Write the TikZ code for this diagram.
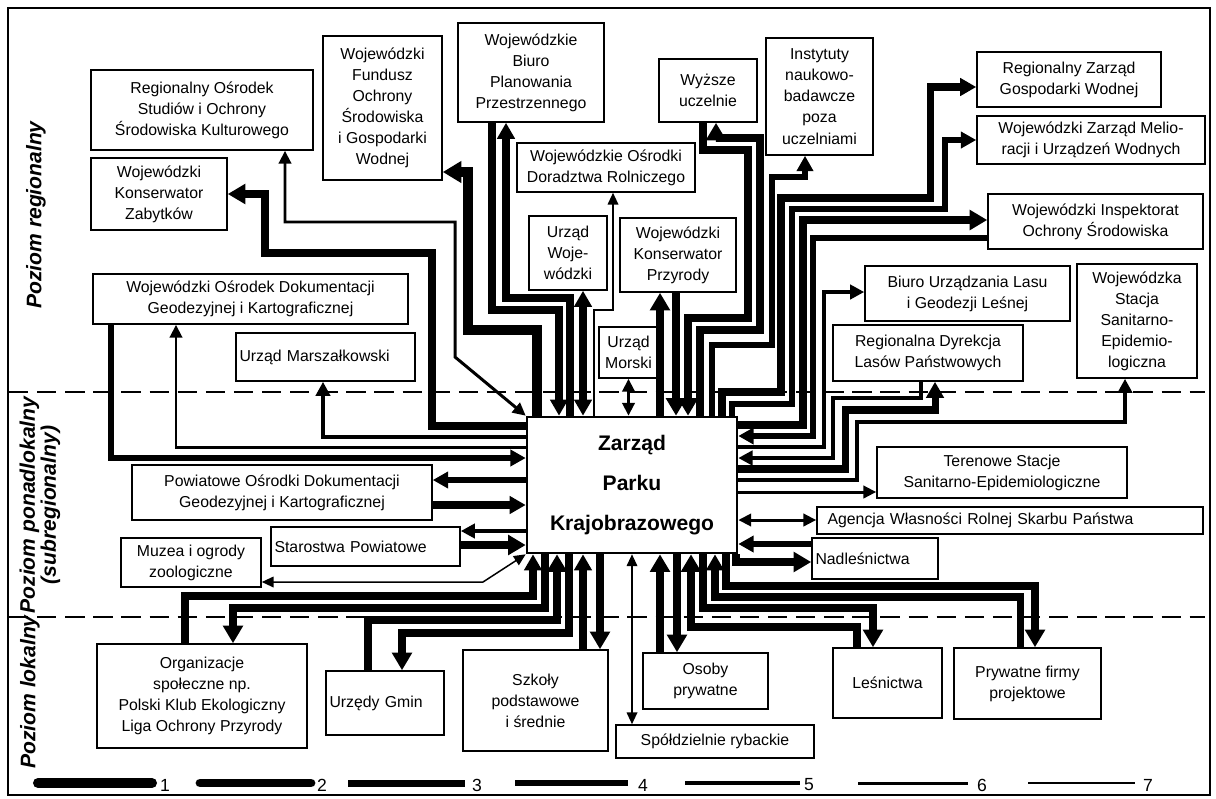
\documentclass[tikz,border=0pt]{standalone}
\usepackage{fontspec}
\setmainfont{Liberation Sans}
\usetikzlibrary{arrows.meta}

\begin{document}
\begin{tikzpicture}[x=0.02cm,y=-0.02cm,
  box/.style={draw,line width=0.9pt,fill=white,inner sep=2pt,align=center,font=\fontsize{9}{12}\selectfont},
  lbox/.style={box,align=left},
  tier/.style={rotate=90,align=center,font=\fontsize{12}{12}\selectfont\bfseries\itshape},
  w1/.style={line width=5.7pt},
  w2/.style={line width=5pt},
  w3/.style={line width=4pt},
  w4/.style={line width=3.4pt},
  w5/.style={line width=2.6pt},
  w6/.style={line width=1.7pt},
  w7/.style={line width=0.85pt},
  >={Triangle[length=6pt 0.8,width=5pt 1.2]}]
\useasboundingbox (0,0) rectangle (1216,798);
\draw[line width=1pt] (8,8) rectangle (1210,795);
\draw[line width=0.7pt,dash pattern=on 11pt off 5pt] (9,392) -- (1205,392);
\draw[line width=0.7pt,dash pattern=on 11pt off 5pt] (9,617) -- (1205,617);

\node[tier] (lvreg) at (36,215) {Poziom regionalny};
\node[tier] (lvsub) at (40,505) {Poziom ponadlokalny\\(subregionalny)};
\node[tier] (lvloc) at (30,692) {Poziom lokalny};

% poziom regionalny
\node[box,minimum width=4.44cm,minimum height=1.6cm] (rosiok) at (202,110) {Regionalny Ośrodek\\Studiów i Ochrony\\Środowiska Kulturowego};
\node[box,minimum width=2.72cm,minimum height=1.44cm] (wkz) at (159,194) {Wojewódzki\\Konserwator\\Zabytków};
\node[box,minimum width=2.38cm,minimum height=2.88cm] (wfos) at (382.5,108) {Wojewódzki\\Fundusz\\Ochrony\\Środowiska\\i Gospodarki\\Wodnej};
\node[box,minimum width=6.3cm,minimum height=1cm] (wodgik) at (250.5,299) {Wojewódzki Ośrodek Dokumentacji\\Geodezyjnej i Kartograficznej};
\node[lbox,text width=3.44cm,minimum height=0.96cm] (umarsz) at (325.5,357) {Urząd Marszałkowski};
\node[box,minimum width=2.92cm,minimum height=1.98cm] (wbpp) at (531,72.5) {Wojewódzkie\\Biuro\\Planowania\\Przestrzennego};
\node[box,minimum width=3.56cm,minimum height=0.98cm] (wodr) at (606,167.5) {Wojewódzkie Ośrodki\\Doradztwa Rolniczego};
\node[box,minimum width=1.56cm,minimum height=1.48cm] (uwoj) at (568,253) {Urząd\\Woje-\\wódzki};
\node[box,minimum width=2.32cm,minimum height=1.48cm] (wkp) at (678,255) {Wojewódzki\\Konserwator\\Przyrody};
\node[box,minimum width=1.18cm,minimum height=1.02cm] (umor) at (628.5,352.5) {Urząd\\Morski};
\node[box,minimum width=1.96cm,minimum height=1.26cm] (wu) at (708,90.5) {Wyższe\\uczelnie};
\node[box,minimum width=2.14cm,minimum height=2.34cm] (inst) at (819.5,96.5) {Instytuty\\naukowo-\\badawcze\\poza\\uczelniami};
\node[box,minimum width=3.68cm,minimum height=1.1cm] (rzgw) at (1069,79.5) {Regionalny Zarząd\\Gospodarki Wodnej};
\node[box,minimum width=4.56cm,minimum height=0.96cm] (wzm) at (1091,140) {Wojewódzki Zarząd Melio-\\racji i Urządzeń Wodnych};
\node[box,minimum width=4.3cm,minimum height=1.1cm] (wios) at (1095.5,221.5) {Wojewódzki Inspektorat\\Ochrony Środowiska};
\node[box,minimum width=4.1cm,minimum height=1.1cm] (bul) at (967.5,293.5) {Biuro Urządzania Lasu\\i Geodezji Leśnej};
\node[box,minimum width=3.8cm,minimum height=1.12cm] (rdlp) at (928,353) {Regionalna Dyrekcja\\Lasów Państwowych};
\node[box,minimum width=2.4cm,minimum height=2.28cm] (wsse) at (1137,321) {Wojewódzka\\Stacja\\Sanitarno-\\Epidemio-\\logiczna};

\node[box,line width=1.5pt,minimum width=4.2cm,minimum height=2.72cm,font=\fontsize{12}{22.7}\selectfont\bfseries] (zpk) at (632,485) {Zarząd\\Parku\\Krajobrazowego};

% poziom ponadlokalny i lokalny
\node[box,minimum width=6cm,minimum height=1.1cm] (podgik) at (282,492.5) {Powiatowe Ośrodki Dokumentacji\\Geodezyjnej i Kartograficznej};
\node[lbox,text width=3.64cm,minimum height=0.78cm] (star) at (365.5,546.5) {Starostwa Powiatowe};
\node[box,minimum width=2.8cm,minimum height=0.98cm] (muzea) at (191,562.5) {Muzea i ogrody\\zoologiczne};
\node[box,minimum width=5cm,minimum height=1.02cm] (ter) at (1002,472.5) {Terenowe Stacje\\Sanitarno-Epidemiologiczne};
\node[lbox,text width=7.58cm,minimum height=0.54cm] (agencja) at (1010,520.5) {\hspace{4pt}Agencja Własności Rolnej Skarbu Państwa};
\node[lbox,text width=2.38cm,minimum height=0.82cm] (nadl) at (875,558.5) {Nadleśnictwa};
\node[box,minimum width=4.2cm,minimum height=2.08cm] (org) at (202,696) {Organizacje\\społeczne np.\\Polski Klub Ekologiczny\\Liga Ochrony Przyrody};
\node[lbox,text width=2.22cm,minimum height=1.28cm] (ugmin) at (385,703) {Urzędy Gmin};
\node[box,minimum width=2.9cm,minimum height=2.02cm] (szk) at (535.5,700.5) {Szkoły\\podstawowe\\i średnie};
\node[box,minimum width=2.5cm,minimum height=1.12cm] (osoby) at (705.5,681) {Osoby\\prywatne};
\node[box,minimum width=3.96cm,minimum height=0.66cm] (spol) at (715,741.5) {Spółdzielnie rybackie};
\node[box,minimum width=2.18cm,minimum height=1.4cm] (lesn) at (887.5,683) {Leśnictwa};
\node[box,minimum width=2.94cm,minimum height=1.42cm] (pff) at (1027.5,683.5) {Prywatne firmy\\projektowe};

% powiazania gorne
\draw[w6,<->] (rosiok.south -| 285,0) -- (285,222) -- (455,222) -- (455,357) -- (zpk.north west);
\draw[w2,<-] (wkz.east |- 0,194) -- (265,194) -- (265,253) -- (432,253) -- (432,426) -- (zpk.west |- 0,426);
\draw[w1,<-] (wfos.east |- 0,172) -- (468,172) -- (468,330) -- (537,330) -- (zpk.north -| 537,0);
\draw[w3,->] (wbpp.south -| 492,0) -- (492,310) -- (559,310) -- (zpk.north -| 559,0);
\draw[w3,<-] (wbpp.south -| 506,0) -- (506,298) -- (570,298) -- (zpk.north -| 570,0);
\draw[w3,<->] (uwoj.south -| 583,0) -- (zpk.north -| 583,0);
\draw[w7,<-] (wodr.south -| 613,0) -- (613,310) -- (594,310) -- (zpk.north -| 594,0);
\draw[w6,<->] (umor.south) -- (umor.south |- zpk.north);
\draw[w2,<-] (wkp.south -| 660,0) -- (zpk.north -| 660,0);
\draw[w2,->] (wkp.south -| 676,0) -- (zpk.north -| 676,0);
\draw[w2,->] (wu.south -| 703,0) -- (703,150) -- (748,150) -- (748,318) -- (688,318) -- (zpk.north -| 688,0);
\draw[w2,<-] (wu.south -| 716,0) -- (716,138) -- (760,138) -- (760,330) -- (700,330) -- (zpk.north -| 700,0);
\draw[w4,<-] (inst.south -| 805,0) -- (805,177) -- (772,177) -- (772,345) -- (712,345) -- (zpk.north -| 712,0);
\draw[w3,<-] (rzgw.west |- 0,87) -- (930,87) -- (930,198) -- (781,198) -- (781,392) -- (722,392) -- (zpk.north -| 722,0);
\draw[w4,<-] (wzm.west |- 0,140) -- (945,140) -- (945,209) -- (792,209) -- (792,404) -- (732,404) -- (zpk.north -| 732,0);
\draw[w2,<-] (wios.west |- 0,220) -- (803,220) -- (803,425) -- (zpk.east |- 0,425);
\draw[w4,->] (wios.west |- 0,238) -- (813,238) -- (813,436) -- (zpk.east |- 0,436);
\draw[w5,<-] (bul.west |- 0,292) -- (824,292) -- (824,447) -- (zpk.east |- 0,447);
\draw[w5,->] (rdlp.south -| 921,0) -- (921,398) -- (833,398) -- (833,458) -- (zpk.east |- 0,458);
\draw[w3,<-] (rdlp.south -| 935,0) -- (935,410) -- (845,410) -- (845,469) -- (zpk.east |- 0,469);
\draw[w5,<-] (wsse.south -| 1125,0) -- (1125,422) -- (857,422) -- (857,480) -- (zpk.east |- 0,480);

% powiazania boczne
\draw[w6,->] (zpk.east |- 0,492) -- (ter.west |- 0,492);
\draw[w6,<->] (zpk.east |- 0,520) -- (agencja.west |- 0,520);
\draw[w4,->] (nadl.west |- 0,544) -- (zpk.east |- 0,544);
\draw[w2,->] (zpk.south -| 736,0) -- (736,562) -- (nadl.west |- 0,562);
\draw[w5,<-] (umarsz.south -| 323,0) -- (323,437) -- (zpk.west |- 0,437);
\draw[w6,<-] (wodgik.south -| 176,0) -- (176,447) -- (zpk.west |- 0,447);
\draw[w4,->] (wodgik.south -| 111,0) -- (111,458) -- (zpk.west |- 0,458);
\draw[w4,->] (zpk.west |- 0,480) -- (podgik.east |- 0,480);
\draw[w3,->] (podgik.east |- 0,505) -- (zpk.west |- 0,505);
\draw[w5,->] (zpk.west |- 0,531) -- (star.east |- 0,531);
\draw[w2,->] (star.east |- 0,545) -- (zpk.west |- 0,545);
\draw[w7,<->] (muzea.east |- 0,582) -- (483,582) -- (zpk.south west);

% powiazania dolne
\draw[w3,->] (org.north -| 185,0) -- (185,596) -- (533,596) -- (zpk.south -| 533,0);
\draw[w2,<-] (org.north -| 233,0) -- (233,608) -- (545,608) -- (zpk.south -| 545,0);
\draw[w2,->] (ugmin.north -| 368,0) -- (368,620) -- (557,620) -- (zpk.south -| 557,0);
\draw[w2,<-] (ugmin.north -| 402,0) -- (402,633) -- (569,633) -- (zpk.south -| 569,0);
\draw[w3,->] (szk.north -| 583,0) -- (zpk.south -| 583,0);
\draw[w2,<-] (szk.north -| 600,0) -- (zpk.south -| 600,0);
\draw[w7,<->] (zpk.south -| 632,0) -- (spol.north -| 632,0);
\draw[w2,->] (osoby.north -| 660,0) -- (zpk.south -| 660,0);
\draw[w2,<-] (osoby.north -| 677,0) -- (zpk.south -| 677,0);
\draw[w2,->] (lesn.north -| 857,0) -- (857,627) -- (691,627) -- (zpk.south -| 691,0);
\draw[w2,<-] (lesn.north -| 873,0) -- (873,608) -- (703,608) -- (zpk.south -| 703,0);
\draw[w3,->] (pff.north -| 1020,0) -- (1020,597) -- (715,597) -- (zpk.south -| 715,0);
\draw[w2,<-] (pff.north -| 1035,0) -- (1035,586) -- (726,586) -- (zpk.south -| 726,0);

% legenda
\draw[w1,line cap=round] (38,783) -- (152,783);
\draw[w2,line cap=round] (200,783) -- (311,783);
\draw[w3] (348,783) -- (465,783);
\draw[w4] (515,783) -- (628,783);
\draw[w5] (685,783) -- (800,783);
\draw[w6] (858,783) -- (968,783);
\draw[w7] (1028,783) -- (1135,783);
\node[font=\fontsize{10}{10}\selectfont] (k1) at (165,785) {1};
\node[font=\fontsize{10}{10}\selectfont] (k2) at (322,785) {2};
\node[font=\fontsize{10}{10}\selectfont] (k3) at (477,785) {3};
\node[font=\fontsize{10}{10}\selectfont] (k4) at (643,785) {4};
\node[font=\fontsize{10}{10}\selectfont] (k5) at (809,785) {5};
\node[font=\fontsize{10}{10}\selectfont] (k6) at (982,785) {6};
\node[font=\fontsize{10}{10}\selectfont] (k7) at (1148,785) {7};
\end{tikzpicture}
\end{document}
